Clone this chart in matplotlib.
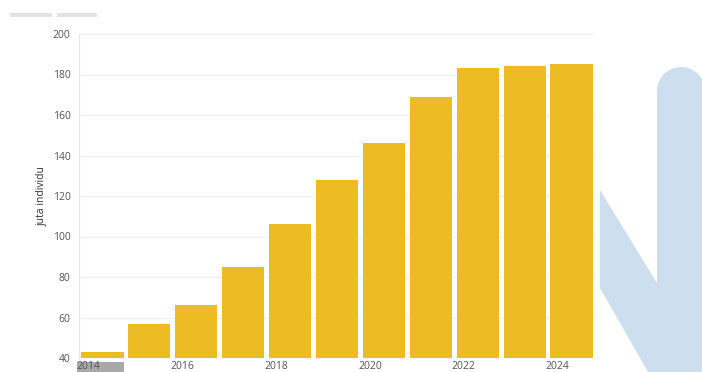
import numpy as np
import matplotlib
matplotlib.use("Agg")
import matplotlib.pyplot as plt
from matplotlib.patches import Rectangle, Polygon, Ellipse

years = [2014, 2015, 2016, 2017, 2018, 2019, 2020, 2021, 2022, 2023, 2024]
values = [43, 57, 66, 85, 106, 128, 146, 169, 183, 184, 185]
yticks = [40, 60, 80, 100, 120, 140, 160, 180, 200]
xtick_years = [2014, 2016, 2018, 2020, 2022, 2024]

plt.rcParams['font.family'] = ['Open Sans', 'DejaVu Sans']

fig = plt.figure(figsize=(7.02, 3.72), dpi=100)
W, H = 702.0, 372.0

def fig_patch(p):
    p.set_transform(fig.transFigure)
    fig.patches.append(p)

# watermark shape on the right (light blue)
wm = '#cddfee'
fig_patch(Polygon([(600 / W, 1 - 190 / H), (657 / W, 1 - 283 / H), (657 / W, 1 - 372 / H),
                   (648 / W, 1 - 372 / H), (600 / W, 1 - 288 / H)],
                  closed=True, facecolor=wm, edgecolor='none', zorder=-2))
fig_patch(Rectangle((657 / W, 0), 50 / W, 1 - 91 / H, facecolor=wm, edgecolor='none', zorder=-2))
fig_patch(Ellipse((681 / W, 1 - 91 / H), 48 / W, 48 / H, facecolor=wm, edgecolor='none', zorder=-2))

# little grey tabs at top-left
for x0, x1 in [(10, 52), (57, 97)]:
    fig_patch(Rectangle((x0 / W, 1 - 17 / H), (x1 - x0) / W, 4 / H,
                        facecolor='#e3e3e3', edgecolor='none', zorder=-2))

# grey scroller under first tick
fig_patch(Rectangle((77 / W, 0), 47 / W, 10 / H, facecolor='#a9a9a9', edgecolor='none', zorder=-2))

ax = fig.add_axes([79 / W, 1 - 358 / H, (595 - 79) / W, (358 - 34) / H])
ax.patch.set_alpha(0)

ax.bar(years, np.array(values) - 40, bottom=40, width=0.9, color='#edbb24', zorder=2)

ax.set_xlim(2013.5, 2024.5)
ax.set_ylim(40, 200)
ax.set_yticks(yticks)
ax.set_xticks([y - 0.3 for y in xtick_years])
ax.set_xticklabels([str(y) for y in xtick_years])
ax.grid(axis='y', color='#eeeeee', linewidth=0.8, zorder=0)
ax.tick_params(axis='both', length=0, labelsize=7.5, labelcolor='#555555')
ax.tick_params(axis='x', pad=2)
ax.tick_params(axis='y', pad=6)
for s in ['top', 'right', 'bottom']:
    ax.spines[s].set_visible(False)
ax.spines['left'].set_color('#e6e6e6')
ax.set_ylabel('juta individu', fontsize=7.5, color='#333333', labelpad=4)

fig.savefig('out.png', dpi=100)
